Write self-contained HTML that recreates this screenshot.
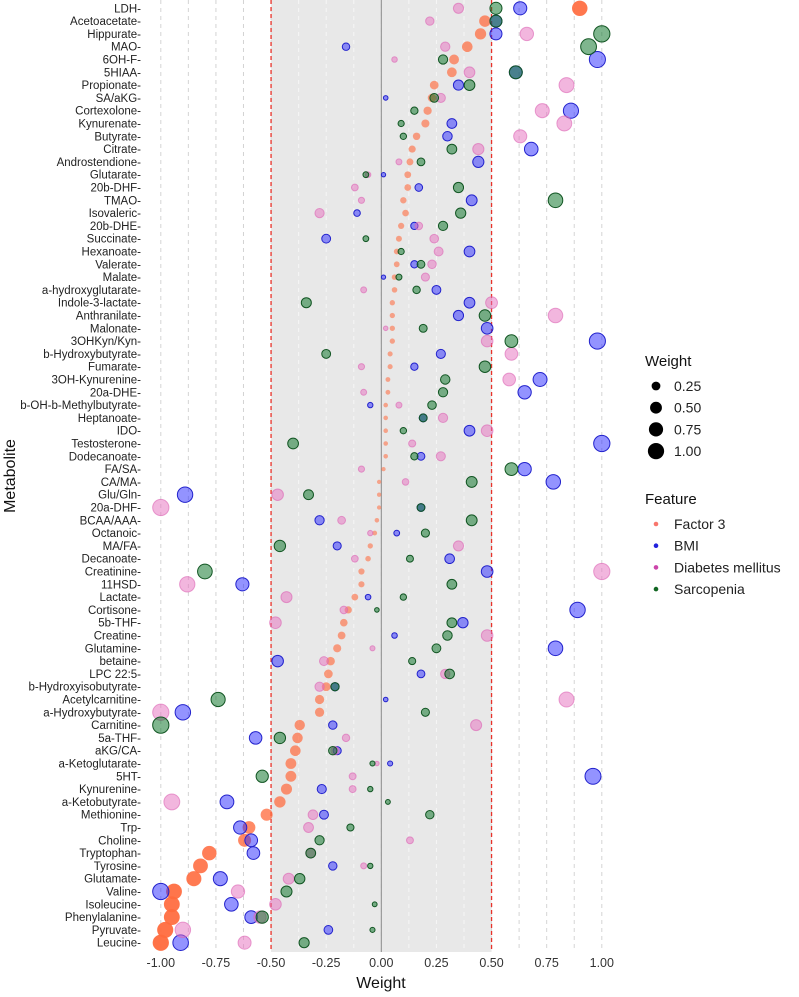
<!DOCTYPE html>
<html><head><meta charset="utf-8"><style>
body{margin:0;background:#fff;font-family:"Liberation Sans",sans-serif;}
svg text{font-family:"Liberation Sans",sans-serif;}
</style></head><body>
<svg id="chart" width="799" height="992"></svg>
<script>
const metabolites=["LDH","Acetoacetate","Hippurate","MAO","6OH-F","5HIAA","Propionate","SA/aKG","Cortexolone","Kynurenate","Butyrate","Citrate","Androstendione","Glutarate","20b-DHF","TMAO","Isovaleric","20b-DHE","Succinate","Hexanoate","Valerate","Malate","a-hydroxyglutarate","Indole-3-lactate","Anthranilate","Malonate","3OHKyn/Kyn","b-Hydroxybutyrate","Fumarate","3OH-Kynurenine","20a-DHE","b-OH-b-Methylbutyrate","Heptanoate","IDO","Testosterone","Dodecanoate","FA/SA","CA/MA","Glu/Gln","20a-DHF","BCAA/AAA","Octanoic","MA/FA","Decanoate","Creatinine","11HSD","Lactate","Cortisone","5b-THF","Creatine","Glutamine","betaine","LPC 22:5","b-Hydroxyisobutyrate","Acetylcarnitine","a-Hydroxybutyrate","Carnitine","5a-THF","aKG/CA","a-Ketoglutarate","5HT","Kynurenine","a-Ketobutyrate","Methionine","Trp","Choline","Tryptophan","Tyrosine","Glutamate","Valine","Isoleucine","Phenylalanine","Pyruvate","Leucine"];
const factor3=[0.90,0.47,0.45,0.39,0.33,0.32,0.24,0.23,0.21,0.20,0.16,0.14,0.13,0.12,0.12,0.10,0.11,0.09,0.08,0.07,0.07,0.06,0.06,0.05,0.05,0.05,0.05,0.04,0.04,0.03,0.03,0.02,0.02,0.02,0.02,0.02,0.01,-0.01,-0.01,-0.01,-0.02,-0.03,-0.05,-0.06,-0.09,-0.09,-0.12,-0.15,-0.17,-0.18,-0.20,-0.23,-0.24,-0.25,-0.28,-0.28,-0.37,-0.38,-0.39,-0.41,-0.41,-0.43,-0.46,-0.52,-0.60,-0.62,-0.78,-0.82,-0.85,-0.94,-0.95,-0.95,-0.98,-1.00];
const bmi=[0.63,0.52,0.52,-0.16,0.98,0.61,0.35,0.02,0.86,0.32,0.30,0.68,0.44,0.01,0.17,0.41,-0.11,0.15,-0.25,0.40,0.15,0.01,0.25,0.40,0.35,0.48,0.98,0.27,0.15,0.72,0.65,-0.05,0.19,0.40,1.00,0.18,0.65,0.78,-0.89,0.18,-0.28,0.07,-0.20,0.31,0.48,-0.63,-0.06,0.89,0.37,0.06,0.79,-0.47,0.18,-0.21,0.02,-0.90,-0.22,-0.57,-0.20,0.04,0.96,-0.27,-0.70,-0.26,-0.64,-0.59,-0.58,-0.22,-0.73,-1.00,-0.68,-0.59,-0.24,-0.91];
const diabetes=[0.35,0.22,0.66,0.29,0.06,0.40,0.84,0.27,0.73,0.83,0.63,0.44,0.08,-0.06,-0.12,-0.09,-0.28,0.17,0.24,0.26,0.23,0.20,-0.08,0.50,0.79,0.02,0.48,0.59,-0.09,0.58,-0.08,0.08,0.28,0.48,0.14,0.27,-0.09,0.11,-0.47,-1.00,-0.18,-0.05,0.35,-0.12,1.00,-0.88,-0.43,-0.17,-0.48,0.48,-0.04,-0.26,0.29,-0.28,0.84,-1.00,0.43,-0.16,-0.21,-0.02,-0.13,-0.13,-0.95,-0.31,-0.33,0.13,-0.32,-0.08,-0.42,-0.65,-0.48,-0.55,-0.90,-0.62];
const sarcopenia=[0.52,0.52,1.00,0.94,0.28,0.61,0.40,0.24,0.15,0.09,0.10,0.32,0.18,-0.07,0.35,0.79,0.36,0.28,-0.07,0.09,0.18,0.08,0.16,-0.34,0.47,0.19,0.59,-0.25,0.47,0.29,0.28,0.23,0.19,0.10,-0.40,0.15,0.59,0.41,-0.33,0.18,0.41,0.20,-0.46,0.13,-0.80,0.32,0.10,-0.02,0.32,0.30,0.25,0.14,0.31,-0.21,-0.74,0.20,-1.00,-0.46,-0.22,-0.04,-0.54,-0.05,0.03,0.22,-0.14,-0.28,-0.32,-0.05,-0.37,-0.43,-0.03,-0.54,-0.04,-0.35];
const xTicks=[-1,-0.75,-0.5,-0.25,0,0.25,0.5,0.75,1];
const xTickLabels=["-1.00","-0.75","-0.50","-0.25","0.00","0.25","0.50","0.75","1.00"];
const sizeLegend=[0.25,0.5,0.75,1.0];
const featureNames=["Factor 3","BMI","Diabetes mellitus","Sarcopenia"];

const NS="http://www.w3.org/2000/svg";
const svg=document.getElementById('chart');
function X(w){return 381.3+220.5*w;}
function Y(i){return 8.3+i*12.8;}
function R(w){return Math.sqrt(4+62*Math.abs(w));}
function mk(tag,attrs,parent){const e=document.createElementNS(NS,tag);for(const k in attrs)e.setAttribute(k,attrs[k]);(parent||svg).appendChild(e);return e;}

let band=mk('rect',{x:X(-0.5),y:0,width:X(0.5)-X(-0.5),height:952,fill:'#e8e8e8'});


for(let v=-1;v<=1.0001;v+=0.125){
  const inBand=v>-0.5&&v<0.5;
  const g=mk('line',{x1:X(v),x2:X(v),y1:0,y2:952,stroke:inBand?'#f6f6f6':'#d4d4d4','stroke-width':1,'stroke-dasharray':'4,4'});
  
  
}
let z=mk('line',{x1:X(0),x2:X(0),y1:0,y2:952,stroke:'#888','stroke-width':1});


[-0.5,0.5].forEach(v=>{
  const l=mk('line',{x1:X(v),x2:X(v),y1:0,y2:952,stroke:'#e8322a','stroke-width':1.3,'stroke-dasharray':'4,3'});
  
  
});
metabolites.forEach((m,i)=>{
  const t=mk('text',{x:141,y:Y(i)+4,'text-anchor':'end','font-size':11.5,fill:'#222'});
  t.textContent=m+'-';
  
  
});
xTicks.forEach((v,i)=>{
  const t=mk('text',{x:X(v),y:967,'text-anchor':'middle','font-size':12.5,fill:'#333'});
  t.textContent=xTickLabels[i];
  
  
});
let xt=mk('text',{x:381,y:988,'text-anchor':'middle','font-size':16,fill:'#111'});xt.textContent='Weight';


let yt=mk('text',{x:15,y:476,'text-anchor':'middle','font-size':16,fill:'#111',transform:'rotate(-90 15 476)'});yt.textContent='Metabolite';



const series=[
 {d:factor3,fill:'#ff6a3d',stroke:'none',op:null,name:'factor3-point'},
 {d:bmi,fill:'rgba(40,40,255,0.5)',stroke:'#2222cc',name:'bmi-point'},
 {d:diabetes,fill:'rgba(230,110,190,0.5)',stroke:'rgba(220,100,180,0.6)',name:'diabetes-point'},
 {d:sarcopenia,fill:'rgba(0,110,30,0.5)',stroke:'#115522',name:'sarcopenia-point'}
];
series.forEach(s=>{
  s.d.forEach((w,i)=>{
    const a={cx:X(w),cy:Y(i),r:R(w),fill:s.fill,stroke:s.stroke,'stroke-width':1};
    if(s.op===null){a['fill-opacity']=0.55+0.4*Math.abs(w);}
    const c=mk('circle',a);
    
    
  });
});

let lt=mk('text',{x:645,y:366,'font-size':15,fill:'#111'});lt.textContent='Weight';


sizeLegend.forEach((v,i)=>{
  const y=386+i*21.7;
  const c=mk('circle',{cx:656,cy:y,r:R(v),fill:'#000'});
  
  
  const t=mk('text',{x:674,y:y+5,'font-size':14,fill:'#222'});t.textContent=v.toFixed(2);
  
  
});
let ft=mk('text',{x:645,y:504,'font-size':15,fill:'#111'});ft.textContent='Feature';


const legCols=['#f8766d','#2222dd','#cc44aa','#116622'];
featureNames.forEach((n,i)=>{
  const y=524+i*21.7;
  const c=mk('circle',{cx:656,cy:y,r:2.3,fill:legCols[i]});
  
  
  const t=mk('text',{x:674,y:y+5,'font-size':14,fill:'#222'});t.textContent=n;
  
  
});
</script>
</body></html>
